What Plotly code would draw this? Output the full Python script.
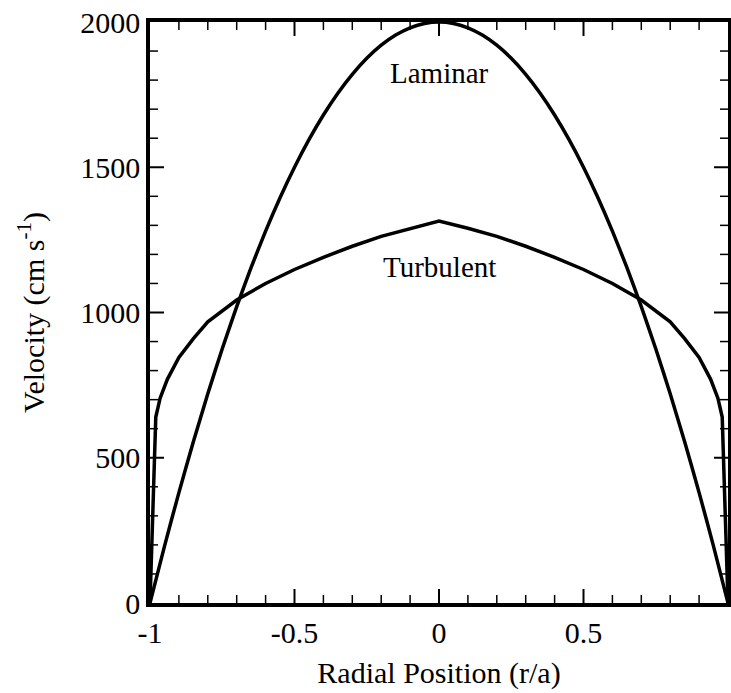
import plotly.graph_objects as go

# Radial position r/a and velocities (cm/s) for the two pipe-flow profiles
laminar_r = [-1.0, -0.95, -0.9, -0.85, -0.8, -0.75, -0.7, -0.65, -0.6, -0.55, -0.5,
             -0.45, -0.4, -0.35, -0.3, -0.25, -0.2, -0.15, -0.1, -0.05, 0.0,
             0.05, 0.1, 0.15, 0.2, 0.25, 0.3, 0.35, 0.4, 0.45, 0.5,
             0.55, 0.6, 0.65, 0.7, 0.75, 0.8, 0.85, 0.9, 0.95, 1.0]
laminar_v = [0, 195, 380, 555, 720, 875, 1020, 1155, 1280, 1395, 1500,
             1595, 1680, 1755, 1820, 1875, 1920, 1955, 1980, 1995, 2000,
             1995, 1980, 1955, 1920, 1875, 1820, 1755, 1680, 1595, 1500,
             1395, 1280, 1155, 1020, 875, 720, 555, 380, 195, 0]

turbulent_r = [-1.0, -0.98, -0.965, -0.94, -0.9, -0.85, -0.8, -0.7, -0.6, -0.5,
               -0.4, -0.3, -0.2, -0.1, 0.0, 0.1, 0.2, 0.3, 0.4, 0.5,
               0.6, 0.7, 0.8, 0.85, 0.9, 0.94, 0.965, 0.98, 1.0]
turbulent_v = [0, 640, 705, 770, 845, 910, 968, 1043, 1100, 1148,
               1190, 1228, 1262, 1290, 1315, 1290, 1262, 1228, 1190, 1148,
               1100, 1043, 968, 910, 845, 770, 705, 640, 0]

# Axis ticks
x_ticks = [-1, -0.5, 0, 0.5, 1]
x_tick_text = ["-1", "-0.5", "0", "0.5", "1"]
y_ticks = [0, 500, 1000, 1500, 2000]
x_minor_step = 0.1
y_minor_step = 100

X_MIN, X_MAX = -1, 1
Y_MIN, Y_MAX = 0, 2000

serif = "Liberation Serif"
ink = "black"

fig = go.Figure()
fig.add_trace(go.Scatter(x=laminar_r, y=laminar_v, mode="lines",
                         line=dict(color=ink, width=3.5, shape="spline", smoothing=0.6),
                         showlegend=False))
fig.add_trace(go.Scatter(x=turbulent_r, y=turbulent_v, mode="lines",
                         line=dict(color=ink, width=3.5),
                         showlegend=False))

fig.add_annotation(x=0, y=1825, text="Laminar", showarrow=False,
                   font=dict(family=serif, size=29, color=ink))
fig.add_annotation(x=0.0, y=1155, text="Turbulent", showarrow=False,
                   font=dict(family=serif, size=29, color=ink))

# Inward tick marks on all four sides of the frame (pixel lengths, data positions)
MAJOR_LEN, MINOR_LEN = 14, 8
x_major_inner = [v for v in x_ticks if X_MIN < v < X_MAX]
y_major_inner = [v for v in y_ticks if Y_MIN < v < Y_MAX]
n_x = int(round((X_MAX - X_MIN) / x_minor_step))
n_y = int(round((Y_MAX - Y_MIN) / y_minor_step))
x_minor = [round(X_MIN + i * x_minor_step, 6) for i in range(1, n_x)]
x_minor = [v for v in x_minor if all(abs(v - m) > 1e-9 for m in x_ticks)]
y_minor = [Y_MIN + i * y_minor_step for i in range(1, n_y)]
y_minor = [v for v in y_minor if v not in y_ticks]


def x_tick_shapes(vals, length, width):
    out = []
    for v in vals:
        for anchor, sign in ((Y_MIN, 1), (Y_MAX, -1)):
            out.append(dict(type="line", xref="x", yref="y", x0=v, x1=v,
                            ysizemode="pixel", yanchor=anchor, y0=0, y1=sign * length,
                            line=dict(color=ink, width=width)))
    return out


def y_tick_shapes(vals, length, width):
    out = []
    for v in vals:
        for anchor, sign in ((X_MIN, 1), (X_MAX, -1)):
            out.append(dict(type="line", xref="x", yref="y", y0=v, y1=v,
                            xsizemode="pixel", xanchor=anchor, x0=0, x1=sign * length,
                            line=dict(color=ink, width=width)))
    return out


shapes = (x_tick_shapes(x_major_inner, MAJOR_LEN, 2) + x_tick_shapes(x_minor, MINOR_LEN, 1.5)
          + y_tick_shapes(y_major_inner, MAJOR_LEN, 2) + y_tick_shapes(y_minor, MINOR_LEN, 1.5))

frame = dict(showline=True, linecolor=ink, linewidth=3.5, mirror=True, ticks="",
             showgrid=False, zeroline=False, automargin=False)

fig.update_xaxes(range=[X_MIN, X_MAX], tickmode="array", tickvals=x_ticks, ticktext=x_tick_text,
                 tickfont=dict(family=serif, size=30, color=ink),
                 title=dict(text="Radial Position (r/a)", font=dict(family=serif, size=30, color=ink)),
                 **frame)
fig.update_yaxes(range=[Y_MIN, Y_MAX], tickmode="array", tickvals=y_ticks,
                 tickfont=dict(family=serif, size=30, color=ink),
                 title=dict(text="Velocity (cm s<sup>-1</sup>)", font=dict(family=serif, size=30, color=ink),
                            standoff=28),
                 **frame)

fig.update_layout(width=731, height=693, margin=dict(l=150, r=3, t=22, b=90),
                  paper_bgcolor="white", plot_bgcolor="white", shapes=shapes)

fig.write_html("out.html")
